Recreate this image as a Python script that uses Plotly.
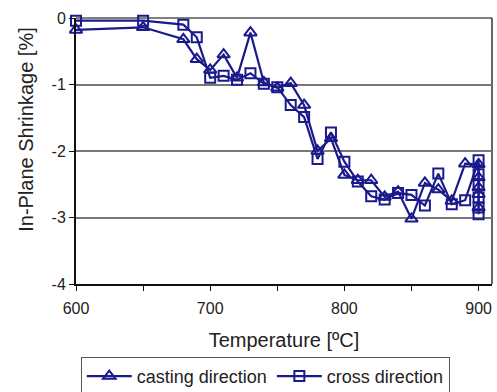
import plotly.graph_objects as go

# Data
temp_casting = [600, 650, 680, 690, 700, 710, 720, 730, 740, 750, 760, 770, 780, 790,
                800, 810, 820, 830, 840, 850, 860, 870, 880, 890,
                900, 900, 900, 900, 900]
casting = [-0.18, -0.14, -0.32, -0.62, -0.78, -0.55, -0.90, -0.22, -0.97, -1.05, -0.98, -1.31, -2.00, -1.81,
           -2.36, -2.44, -2.44, -2.69, -2.61, -3.02, -2.48, -2.58, -2.75, -2.19,
           -2.20, -2.55, -2.85, -2.40, -2.65]

temp_cross = [600, 650, 680, 690, 700, 710, 720, 730, 740, 750, 760, 770, 780, 790,
              800, 810, 820, 830, 840, 850, 860, 870, 880, 890,
              900, 900, 900, 900, 900, 900]
cross = [-0.04, -0.04, -0.10, -0.29, -0.90, -0.87, -0.93, -0.83, -0.99, -1.04, -1.31, -1.49, -2.12, -1.72,
         -2.16, -2.46, -2.68, -2.73, -2.63, -2.66, -2.82, -2.34, -2.80, -2.74,
         -2.14, -2.95, -2.50, -2.70, -2.35, -2.85]

x_tickvals = [600, 650, 700, 750, 800, 850, 900]
x_ticktext = ["600", "", "700", "", "800", "", "900"]
y_tickvals = [0, -1, -2, -3, -4]
y_ticktext = ["0", "-1", "-2", "-3", "-4"]

navy = "#1a1a8c"
font_family = "Arial, Liberation Sans, sans-serif"

fig = go.Figure()
fig.add_trace(go.Scatter(
    x=temp_casting, y=casting, mode="lines+markers", name="casting direction",
    line=dict(color=navy, width=2.2),
    marker=dict(symbol="triangle-up-open", size=11, color=navy, line=dict(width=2, color=navy)),
    cliponaxis=False,
))
fig.add_trace(go.Scatter(
    x=temp_cross, y=cross, mode="lines+markers", name="cross direction",
    line=dict(color=navy, width=2.2),
    marker=dict(symbol="square-open", size=10, color=navy, line=dict(width=2, color=navy)),
    cliponaxis=False,
))

fig.update_layout(
    width=497, height=392,
    margin=dict(l=76, r=5, t=18, b=108, autoexpand=False),
    paper_bgcolor="white", plot_bgcolor="white",
    font=dict(family=font_family, size=16, color="#222222"),
    showlegend=True,
    legend=dict(
        orientation="h", x=0.455, xanchor="center", y=-0.274, yanchor="top",
        bordercolor="#555555", borderwidth=1, bgcolor="white",
        font=dict(size=18, color="#222222"),
        itemwidth=45, tracegroupgap=0,
    ),
    xaxis=dict(
        range=[600, 910], tickvals=x_tickvals, ticktext=x_ticktext,
        showgrid=False, zeroline=False,
        showline=True, linecolor="#111111", linewidth=2,
        ticks="outside", ticklen=5, tickcolor="#111111", tickwidth=1,
        ticklabelstandoff=4,
        title=dict(text="Temperature [ºC]", font=dict(size=20, color="#222222"), standoff=17),
    ),
    yaxis=dict(
        range=[-4, 0], tickvals=y_tickvals, ticktext=y_ticktext,
        showgrid=True, gridcolor="#777777", gridwidth=1.5, zeroline=False,
        showline=True, linecolor="#111111", linewidth=2,
        ticks="outside", ticklen=5, tickcolor="#111111", tickwidth=1,
    ),
    annotations=[dict(
        text="In-Plane Shrinkage [%]", xref="paper", yref="paper",
        x=-0.12, y=0.58, xanchor="center", yanchor="middle",
        textangle=-90, showarrow=False, font=dict(size=20, color="#222222"),
    )],
    shapes=[
        dict(type="line", xref="paper", yref="paper", x0=0, x1=1, y0=1, y1=1,
             line=dict(color="#555555", width=1.5), layer="below"),
        dict(type="line", xref="paper", yref="paper", x0=1, x1=1, y0=0, y1=1,
             line=dict(color="#333333", width=1.5), layer="below"),
    ],
)

fig.write_html("out.html", config={"displayModeBar": False},
               post_script="document.body.style.margin='0';")
